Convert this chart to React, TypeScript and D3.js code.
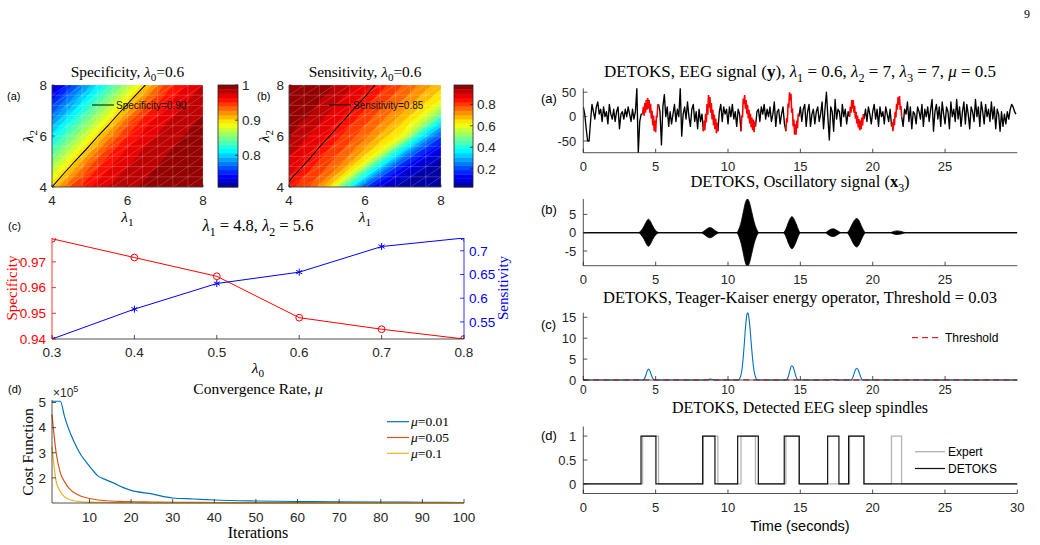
import React from "react";
import * as d3 from "d3";

// ---------- top-left heatmaps (rows: lambda2 = 4..8, columns: lambda1 = 4..8) ----------
const lambdaGrid = [4, 4.5, 5, 5.5, 6, 6.5, 7, 7.5, 8];
const specificityGrid = [
  [0.9, 0.941, 0.962, 0.976, 0.985, 0.99, 0.994, 0.997, 0.999],
  [0.877, 0.916, 0.949, 0.968, 0.98, 0.987, 0.992, 0.995, 0.998],
  [0.855, 0.892, 0.932, 0.958, 0.973, 0.983, 0.989, 0.993, 0.996],
  [0.832, 0.869, 0.906, 0.944, 0.964, 0.978, 0.986, 0.991, 0.995],
  [0.81, 0.846, 0.883, 0.922, 0.952, 0.97, 0.981, 0.988, 0.992],
  [0.788, 0.824, 0.86, 0.897, 0.938, 0.961, 0.975, 0.985, 0.99],
  [0.765, 0.8, 0.838, 0.874, 0.912, 0.947, 0.966, 0.979, 0.987],
  [0.742, 0.779, 0.815, 0.851, 0.888, 0.928, 0.955, 0.972, 0.982],
  [0.72, 0.756, 0.793, 0.829, 0.865, 0.902, 0.942, 0.963, 0.977],
];
const sensitivityGrid = [
  [0.837, 0.783, 0.675, 0.429, 0.2, 0.08, 0.05, 0.04, 0.035],
  [0.866, 0.816, 0.762, 0.64, 0.4, 0.2, 0.095, 0.055, 0.04],
  [0.892, 0.848, 0.795, 0.734, 0.618, 0.385, 0.2, 0.108, 0.06],
  [0.919, 0.875, 0.827, 0.775, 0.7, 0.604, 0.37, 0.2, 0.117],
  [0.945, 0.901, 0.857, 0.807, 0.755, 0.675, 0.609, 0.359, 0.2],
  [0.955, 0.927, 0.883, 0.838, 0.787, 0.73, 0.657, 0.549, 0.347],
  [0.96, 0.952, 0.909, 0.866, 0.818, 0.768, 0.708, 0.643, 0.524],
  [0.962, 0.958, 0.934, 0.891, 0.848, 0.798, 0.749, 0.69, 0.632],
  [0.964, 0.962, 0.955, 0.917, 0.874, 0.828, 0.779, 0.729, 0.676],
];

// ---------- panel (c) ----------
const lambda0 = [0.3, 0.4, 0.5, 0.6, 0.7, 0.8];
const specificityVsL0 = [0.979, 0.9717, 0.9644, 0.9483, 0.9438, 0.94];
const sensitivityVsL0 = [0.514, 0.577, 0.631, 0.655, 0.709, 0.727];

// ---------- panel (d) ----------
const iterations = [1, 2, 3, 4, 5, 6, 7, 8, 9, 10, 12, 14, 16, 18, 20, 25, 30, 35, 40, 50, 60, 70, 80, 90, 100];
const costMu001 = [505000, 505000, 505000, 445000, 395000, 355000, 320000, 290000, 268000, 247000, 208000, 192000, 178000, 162000, 150000, 136000, 120000, 116000, 112000, 108000, 106000, 105000, 104000, 103000, 102000];
const costMu005 = [453000, 300000, 220000, 185000, 160000, 145000, 135000, 127000, 122000, 118000, 112000, 109000, 107000, 106000, 105000, 104000, 103000, 102500, 102000, 101500, 101200, 101000, 101000, 101000, 101000];
const costMu01 = [325000, 186000, 145000, 125000, 115000, 110000, 107000, 105000, 104000, 103500, 102500, 102000, 101500, 101200, 101000, 100800, 100600, 100500, 100500, 100500, 100500, 100500, 100500, 100500, 100500];
const muLabels = ["0.01", "0.05", "0.1"];

// ---------- right column: EEG (10 samples / s) ----------
const eegRate = 10;
const eegSignal = [
  20, 5, -25, -50, -50, -10, 25, 10, -5, 20,
  30, 5, 15, -10, 20, 0, 10, -15, 25, 5,
  -5, 15, -10, 10, 20, -25, 5, 10, -5, 15,
  0, 20, 5, -10, 15, -5, 10, 58, -74, -10,
  5, 5, 0, 0, 0, 0, 0, 0, 0, 0,
  0, 0, 25, 10, -58, 20, 45, 0, 20, -20,
  10, -15, 5, 25, -10, 15, 0, 58, -40, 5,
  20, -5, 30, 0, -20, 15, 25, -10, 10, -25,
  15, -10, 5, -30, 0, 0, 0, 0, 0, 0,
  0, 0, 0, -30, 10, 25, -10, 20, 5, 15,
  -15, 20, 0, 25, -5, 10, -20, 15, 5, -30,
  0, 0, 0, 0, 0, 0, 0, 0, 0, -20,
  10, 15, -10, 20, 5, 25, -5, 15, 0, 20,
  -10, 5, 30, -20, 10, 15, -15, 5, 20, -15,
  -30, 0, 0, 0, 0, 0, 0, 0, 0, 0,
  20, -10, 15, 25, -20, 10, 25, -20, 5, 15,
  -15, 10, 20, -10, 5, 30, -25, 15, 50, 0,
  -48, 20, 10, -30, 35, -5, 15, 10, -20, 25,
  0, 15, -15, 10, 0, 0, 0, 0, 0, 0,
  0, 0, 0, 0, -5, 15, -10, 20, 5, -15,
  10, 25, -5, 15, -20, 20, 0, 10, -15, 20,
  5, -10, 15, -20, 0, 0, 0, 0, 0, 0,
  0, -20, 15, 5, 30, -10, 20, -25, 10, 5,
  -15, 20, 10, -5, 25, -20, 15, 0, 20, -10,
  15, 35, -30, 10, 25, -5, 20, -20, 30, 5,
  -15, 20, 10, -25, 30, 0, 15, -10, 35, -5,
  20, -20, 10, 30, -15, 25, 5, -25, 20, 10,
  -10, 35, 0, 20, -20, 30, 10, -15, 25, 0,
  15, -10, 30, -5, 20, -25, 15, 5, -30, 10,
  -20, 5, -15, 10, -5, 15, 25, 20, 10, 5,
];

// expert-scored spindles (seconds) and the EEG inside them (20 samples / s)
const expertOn = [4.1, 8.3, 10.9, 14.0, 18.4, 21.3];
const expertOff = [5.2, 9.3, 11.9, 14.9, 19.4, 22.0];
const expertRate = 20;
const expertEEG = [
  [5, 20, 2, 28, 8, 34, 14, 38, 16, 34, 8, 26, -4, 12, -18, 2, -30, -8, -32, 0, 0, 24, 25],
  [-30, -8, -28, 6, -12, 26, 4, 44, 18, 40, 8, 28, -6, 14, -18, 4, -26, -4, -34, -12, -30],
  [-30, 2, -2, 37, 26, 44, 16, 34, 6, 24, -4, 14, -14, 6, -22, -2, -28, -6, -32, -10, -20],
  [-30, -3, -12, 27, 18, 50, 33, 47, 8, 17, -20, -6, -37, -16, -37, -8, -24, 6, 0],
  [0, 20, 8, 34, 16, 34, 8, 22, -4, 10, -14, 2, -22, -5, -28, -8, -26, -2, -18, 5, -5],
  [-20, -12, -30, -5, -18, 10, -2, 26, 14, 40, 24, 42, 14, 22, 0],
];

// DETOKS detections (seconds)
const detoksOn = [3.99, 8.25, 10.67, 13.89, 16.89, 18.34];
const detoksOff = [5.02, 9.1, 12.1, 14.93, 17.67, 19.4];

// oscillatory component x3: envelope [time, amplitude]
const oscEnvelope = [
  [0, 0], [3.8, 0], [4.0, 0.6], [4.2, 1.8], [4.35, 3.0], [4.5, 3.7], [4.65, 3.0], [4.8, 1.8], [5.0, 0.6], [5.3, 0],
  [8.1, 0], [8.4, 0.6], [8.6, 1.2], [8.75, 1.4], [8.9, 1.2], [9.1, 0.6], [9.45, 0],
  [10.6, 0], [10.75, 1.0], [10.9, 2.8], [11.05, 5.5], [11.2, 8.2], [11.35, 9.2], [11.5, 8.0], [11.65, 5.5], [11.8, 3.0], [11.95, 1.2], [12.15, 0],
  [13.8, 0], [14.0, 1.0], [14.15, 2.6], [14.3, 3.9], [14.42, 4.4], [14.55, 3.8], [14.7, 2.5], [14.85, 1.0], [15.0, 0],
  [16.7, 0], [16.95, 0.6], [17.15, 1.0], [17.3, 1.05], [17.5, 0.7], [17.85, 0],
  [18.2, 0], [18.4, 0.9], [18.6, 2.5], [18.75, 3.5], [18.9, 3.9], [19.05, 3.3], [19.2, 2.0], [19.35, 0.8], [19.5, 0],
  [21.2, 0], [21.45, 0.35], [21.7, 0.5], [21.95, 0.35], [22.3, 0], [29.99, 0],
];

// Teager-Kaiser energy [time, value]
const tkeo = [
  [0, 0], [4.1, 0], [4.2, 0.2], [4.3, 0.9], [4.4, 2.0], [4.5, 2.6], [4.6, 2.2], [4.7, 1.2], [4.8, 0.4], [4.9, 0.05], [5.0, 0],
  [8.5, 0], [8.65, 0.12], [8.8, 0.2], [8.95, 0.1], [9.1, 0],
  [10.7, 0], [10.8, 0.3], [10.9, 1.2], [11.0, 3.5], [11.1, 7.5], [11.2, 12.2], [11.3, 15.6], [11.35, 16.1], [11.4, 15.8], [11.5, 13.2], [11.6, 9.0], [11.7, 5.0], [11.8, 2.2], [11.9, 0.7], [12.0, 0.1], [12.1, 0],
  [14.0, 0], [14.1, 0.3], [14.2, 1.2], [14.3, 2.6], [14.4, 3.4], [14.5, 3.1], [14.6, 2.0], [14.7, 0.8], [14.8, 0.15], [14.9, 0],
  [17.0, 0], [17.2, 0.12], [17.4, 0.12], [17.6, 0],
  [18.5, 0], [18.6, 0.4], [18.7, 1.4], [18.8, 2.4], [18.9, 2.8], [19.0, 2.4], [19.1, 1.4], [19.2, 0.5], [19.3, 0.05], [19.4, 0],
  [29.99, 0],
];
const threshold = 0.03;

// ---------- styling ----------
const AX = "#262626";
const SANS = "'Liberation Sans', Arial, Helvetica, sans-serif";
const SERIF = "'Liberation Serif', 'Times New Roman', serif";
const NLEV = 24;
const BLUE = "#0072BD", ORANGE = "#D95319", YELLOW = "#EDB120";

const jet = d3
  .scaleLinear<string>()
  .domain([0, 0.11, 0.36, 0.62, 0.87, 1])
  .range(["#00008f", "#0000ff", "#00ffff", "#ffff00", "#ff0000", "#800000"]);

// text with subscripts / bold / italic pieces: [text, kind]
function Rich({ parts, fs, ...rest }: any) {
  let shifted = false;
  const out = parts.map(([s, k]: any, i: number) => {
    let dy: number | undefined;
    if (k === "s" && !shifted) { dy = fs * 0.28; shifted = true; }
    else if (k !== "s" && shifted) { dy = -fs * 0.28; shifted = false; }
    return (
      <tspan key={i} dy={dy} fontSize={k === "s" ? fs * 0.72 : fs}
        fontWeight={k === "b" ? "bold" : undefined} fontStyle={k === "i" ? "italic" : undefined}>{s}</tspan>
    );
  });
  return <text fontSize={fs} style={{ whiteSpace: "pre" }} {...rest}>{out}</text>;
}

function BottomAxis({ scale, y, ticks, fmt = String, fs = 13, tl = 4, dy = 17, color = AX }: any) {
  const [a, b] = scale.range();
  return (
    <g>
      <line x1={a} x2={b} y1={y} y2={y} stroke={color} strokeWidth={0.8} />
      {ticks.map((t: number) => (
        <g key={t}>
          <line x1={scale(t)} x2={scale(t)} y1={y} y2={y - tl} stroke={color} strokeWidth={0.8} />
          <text x={scale(t)} y={y + dy} textAnchor="middle" fontFamily={SANS} fontSize={fs} fill={color}>{fmt(t)}</text>
        </g>
      ))}
    </g>
  );
}

function SideAxis({ scale, x, ticks, fmt = String, fs = 13, tl = 4, gap = 6, color = AX, side = "left" }: any) {
  const [a, b] = scale.range();
  const dir = side === "left" ? 1 : -1;
  return (
    <g>
      <line x1={x} x2={x} y1={a} y2={b} stroke={color} strokeWidth={0.8} />
      {ticks.map((t: number) => (
        <g key={t}>
          <line x1={x} x2={x + dir * tl} y1={scale(t)} y2={scale(t)} stroke={color} strokeWidth={0.8} />
          <text x={x - dir * gap} y={scale(t)} dy="0.36em" textAnchor={side === "left" ? "end" : "start"}
            fontFamily={SANS} fontSize={fs} fill={color}>{fmt(t)}</text>
        </g>
      ))}
    </g>
  );
}

function Heatmap({ x0, x1, y0, y1, grid, lo, hi, level, legend, title, tag, tagX, cbX0, cbX1, cbTicks, ylabX, id }: any) {
  const xs = d3.scaleLinear().domain([4, 8]).range([x0, x1]);
  const ys = d3.scaleLinear().domain([4, 8]).range([y1, y0]);
  const n = lambdaGrid.length;
  const step = lambdaGrid[1] - lambdaGrid[0];
  const flat = grid.flat();
  const levels = d3.range(NLEV).map((k) => lo + (k * (hi - lo)) / NLEV);
  const bands = d3.contours().size([n, n]).thresholds(levels)(flat);
  const iso = d3.contours().size([n, n]).thresholds([level])(flat)[0];
  const proj = d3.geoTransform({
    point: function (px: number, py: number) {
      (this as any).stream.point(xs(lambdaGrid[0] + (px - 0.5) * step), ys(lambdaGrid[0] + (py - 0.5) * step));
    },
  });
  const path = d3.geoPath(proj as any);
  const mesh = d3.range(4, 8.001, 0.4);
  const cy = d3.scaleLinear().domain([lo, hi]).range([y1, y0]);
  const dv = (hi - lo) / NLEV;
  return (
    <g>
      <clipPath id={id}><rect x={x0} y={y0} width={x1 - x0} height={y1 - y0} /></clipPath>
      <g clipPath={`url(#${id})`}>
        {bands.map((b: any, k: number) => (
          <path key={k} d={path(b) || ""} fill={jet((k + 0.5) / NLEV)} stroke={jet((k + 0.5) / NLEV)} strokeWidth={0.3} />
        ))}
        <g stroke="#fff" strokeOpacity={0.32} strokeWidth={0.6}>
          {mesh.map((v) => (
            <g key={v}>
              <line x1={xs(v)} x2={xs(v)} y1={y0} y2={y1} />
              <line x1={x0} x2={x1} y1={ys(v)} y2={ys(v)} />
            </g>
          ))}
          {mesh.slice(0, -1).map((a) =>
            mesh.slice(0, -1).map((b) => (
              <line key={`${a}-${b}`} x1={xs(a)} y1={ys(b)} x2={xs(a + 0.4)} y2={ys(b + 0.4)} />
            ))
          )}
        </g>
        <path d={path(iso as any) || ""} fill="none" stroke="#000" strokeWidth={1.1} />
      </g>
      <line x1={x0 + 40} x2={x0 + 62} y1={105} y2={105} stroke="#000" strokeWidth={1} />
      <text x={x0 + 64} y={108.5} fontFamily={SANS} fontSize={10} fill="#111">{legend}</text>
      <BottomAxis scale={xs} y={y1} ticks={[4, 6, 8]} fs={13.5} tl={2.5} dy={18} />
      <SideAxis scale={ys} x={x0} ticks={[4, 6, 8]} fs={13.5} tl={2.5} gap={5} />
      <Rich x={(x0 + x1) / 2} y={77} textAnchor="middle" fontFamily={SERIF} fs={15.4} fill="#000" parts={title} />
      <Rich x={(x0 + x1) / 2} y={222} textAnchor="middle" fontFamily={SERIF} fs={15.5} fill="#000" parts={[["λ", "i"], ["1", "s"]]} />
      <Rich transform={`translate(${ylabX},136) rotate(-90)`} textAnchor="middle" fontFamily={SERIF} fs={15.5} fill="#000" parts={[["λ", "i"], ["2", "s"]]} />
      <text x={tagX} y={100} fontFamily={SANS} fontSize={11} fill="#000">{tag}</text>
      {/* colorbar */}
      {d3.range(NLEV).map((k) => (
        <rect key={k} x={cbX0} width={cbX1 - cbX0} y={cy(lo + (k + 1) * dv)} height={cy(lo + k * dv) - cy(lo + (k + 1) * dv) + 0.4} fill={jet((k + 0.5) / NLEV)} />
      ))}
      <rect x={cbX0} y={y0} width={cbX1 - cbX0} height={y1 - y0} fill="none" stroke={AX} strokeWidth={0.8} />
      {cbTicks.map((t: number) => (
        <g key={t}>
          <line x1={cbX1} x2={cbX1 - 3} y1={cy(t)} y2={cy(t)} stroke={AX} strokeWidth={0.8} />
          <text x={cbX1 + 4} y={cy(t)} dy="0.36em" fontFamily={SANS} fontSize={13.5} fill={AX}>{t}</text>
        </g>
      ))}
    </g>
  );
}

function PanelC() {
  const x = d3.scaleLinear().domain([0.3, 0.8]).range([52, 464]);
  const yl = d3.scaleLinear().domain([0.94, 0.9793]).range([339, 238]);
  const yr = d3.scaleLinear().domain([0.514, 0.727]).range([339, 238]);
  const lineL = d3.line<number>().x((_, i) => x(lambda0[i])).y((d) => yl(d));
  const lineR = d3.line<number>().x((_, i) => x(lambda0[i])).y((d) => yr(d));
  const star = d3.symbol(d3.symbolAsterisk, 34)() || "";
  return (
    <g>
      <clipPath id="clipC"><rect x={52} y={238} width={412} height={101} /></clipPath>
      <g clipPath="url(#clipC)">
        <path d={lineL(specificityVsL0) || ""} fill="none" stroke="#ff0000" strokeWidth={1} />
        <path d={lineR(sensitivityVsL0) || ""} fill="none" stroke="#0000ff" strokeWidth={1} />
        {specificityVsL0.map((v, i) => (
          <circle key={i} cx={x(lambda0[i])} cy={yl(v)} r={3.4} fill="none" stroke="#ff0000" strokeWidth={1} />
        ))}
        {sensitivityVsL0.map((v, i) => (
          <path key={i} d={star} transform={`translate(${x(lambda0[i])},${yr(v)})`} fill="none" stroke="#0000ff" strokeWidth={1} />
        ))}
      </g>
      <BottomAxis scale={x} y={339} ticks={lambda0} fs={13.5} tl={4} dy={18} />
      <SideAxis scale={yl} x={52} ticks={[0.94, 0.95, 0.96, 0.97]} fs={13.5} gap={6} color="#ff0000" />
      <SideAxis scale={yr} x={464} ticks={[0.55, 0.6, 0.65, 0.7]} fs={13.5} gap={5} color="#0000ff" side="right" />
      <text x={8} y={230} fontFamily={SANS} fontSize={11}>(c)</text>
      <Rich x={258} y={231} textAnchor="middle" fontFamily={SERIF} fs={16.5} fill="#000"
        parts={[["λ", "i"], ["1", "s"], [" = 4.8, ", "n"], ["λ", "i"], ["2", "s"], [" = 5.6", "n"]]} />
      <Rich x={258} y={373} textAnchor="middle" fontFamily={SERIF} fs={15.5} fill="#000" parts={[["λ", "i"], ["0", "s"]]} />
      <text transform="translate(17,288) rotate(-90)" textAnchor="middle" fontFamily={SERIF} fontSize={15} fill="#ff0000">Specificity</text>
      <text transform="translate(508,288) rotate(-90)" textAnchor="middle" fontFamily={SERIF} fontSize={15} fill="#0000ff">Sensitivity</text>
    </g>
  );
}

function PanelD() {
  const x = d3.scaleLinear().domain([1, 100]).range([52, 464]);
  const y = d3.scaleLinear().domain([100000, 510000]).range([503, 400]);
  const series = [costMu001, costMu005, costMu01];
  const colors = [BLUE, ORANGE, YELLOW];
  const line = d3.line<number>().x((_, i) => x(iterations[i])).y((d) => y(d)).curve(d3.curveMonotoneX);
  return (
    <g>
      {series.map((s, k) => (
        <path key={k} d={line(s) || ""} fill="none" stroke={colors[k]} strokeWidth={1.2} />
      ))}
      <BottomAxis scale={x} y={503} ticks={d3.range(10, 101, 10)} fs={13.5} tl={4} dy={19} />
      <SideAxis scale={y} x={52} ticks={[200000, 300000, 400000, 500000]} fmt={(t: number) => t / 100000} fs={13.5} gap={6} />
      <text x={53} y={397} fontFamily={SANS} fontSize={12} fill={AX}>×10<tspan dy={-5} fontSize={9}>5</tspan></text>
      <text x={8} y={393} fontFamily={SANS} fontSize={11}>(d)</text>
      <Rich x={258} y={394} textAnchor="middle" fontFamily={SERIF} fs={15.5} fill="#000" parts={[["Convergence Rate, ", "n"], ["μ", "i"]]} />
      <text x={258} y={538} textAnchor="middle" fontFamily={SERIF} fontSize={16}>Iterations</text>
      <text transform="translate(33,452) rotate(-90)" textAnchor="middle" fontFamily={SERIF} fontSize={15.5}>Cost Function</text>
      {muLabels.map((m, k) => (
        <g key={m}>
          <line x1={387} x2={409} y1={421.7 + k * 15.8} y2={421.7 + k * 15.8} stroke={colors[k]} strokeWidth={1.2} />
          <Rich x={411} y={426 + k * 15.8} fontFamily={SERIF} fs={13.5} fill="#000" parts={[["μ", "i"], ["=" + m, "n"]]} />
        </g>
      ))}
    </g>
  );
}

const RX0 = 583.3, RX1 = 1017.3;
const xSig = d3.scaleLinear().domain([0, 29.99]).range([RX0, RX1]);
const sigTicks = [0, 5, 10, 15, 20, 25];

function EegPanel() {
  const y = d3.scaleLinear().domain([-74, 58]).range([152.7, 88.3]);
  const inExpert = (t: number) => expertOn.some((s, k) => t > s + 1e-6 && t < expertOff[k] - 1e-6);
  const pts = eegSignal.map((v, i) => [i / eegRate, v]);
  const line = d3.line<number[]>().x((d) => xSig(d[0])).y((d) => y(d[1]));
  const black = d3.line<number[]>().defined((d) => !inExpert(d[0])).x((d) => xSig(d[0])).y((d) => y(d[1]));
  return (
    <g>
      <clipPath id="clipEA"><rect x={RX0} y={88.3} width={RX1 - RX0} height={64.4} /></clipPath>
      <g clipPath="url(#clipEA)">
        <path d={black(pts) || ""} fill="none" stroke="#000" strokeWidth={1.35} strokeLinejoin="round" />
        {expertEEG.map((seg, k) => (
          <path key={k} d={line(seg.map((v, i) => [expertOn[k] + i / expertRate, v])) || ""} fill="none" stroke="#ff0000" strokeWidth={1.6} />
        ))}
      </g>
      <BottomAxis scale={xSig} y={152.7} ticks={sigTicks} fs={13} dy={18} />
      <SideAxis scale={y} x={RX0} ticks={[-50, 0, 50]} fs={13} gap={7} />
      <text x={541} y={103} fontFamily={SANS} fontSize={13}>(a)</text>
      <Rich x={800} y={77} textAnchor="middle" fontFamily={SERIF} fs={17} fill="#000"
        parts={[["DETOKS, EEG signal (", "n"], ["y", "b"], ["), ", "n"], ["λ", "i"], ["1", "s"], [" = 0.6, ", "n"], ["λ", "i"], ["2", "s"],
          [" = 7, ", "n"], ["λ", "i"], ["3", "s"], [" = 7, ", "n"], ["μ", "i"], [" = 0.5", "n"]]} />
    </g>
  );
}

function OscPanel() {
  const y = d3.scaleLinear().domain([-9.0, 9.2]).range([265.7, 199]);
  const area = d3.area<number[]>().x((d) => xSig(d[0])).y0((d) => y(-d[1])).y1((d) => y(d[1])).curve(d3.curveMonotoneX);
  const [t0, t1] = xSig.domain();
  return (
    <g>
      <clipPath id="clipEB"><rect x={RX0} y={199} width={RX1 - RX0} height={66.7} /></clipPath>
      <g clipPath="url(#clipEB)">
        <line x1={xSig(t0)} x2={xSig(t1)} y1={y(0)} y2={y(0)} stroke="#000" strokeWidth={1} />
        <path d={area(oscEnvelope) || ""} fill="#000" stroke="#000" strokeWidth={0.8} />
      </g>
      <BottomAxis scale={xSig} y={265.7} ticks={sigTicks} fs={13} dy={18} />
      <SideAxis scale={y} x={RX0} ticks={[-5, 0, 5]} fs={13} gap={7} />
      <text x={541} y={214} fontFamily={SANS} fontSize={13}>(b)</text>
      <Rich x={800} y={187} textAnchor="middle" fontFamily={SERIF} fs={16.5} fill="#000"
        parts={[["DETOKS, Oscillatory signal (", "n"], ["x", "b"], ["3", "s"], [")", "n"]]} />
    </g>
  );
}

function TkeoPanel() {
  const y = d3.scaleLinear().domain([0, 16.1]).range([380, 312.7]);
  const line = d3.line<number[]>().x((d) => xSig(d[0])).y((d) => y(d[1])).curve(d3.curveMonotoneX);
  const [t0, t1] = xSig.domain();
  return (
    <g>
      <path d={line(tkeo) || ""} fill="none" stroke={BLUE} strokeWidth={1.1} />
      <line x1={xSig(t0)} x2={xSig(t1)} y1={y(threshold)} y2={y(threshold)} stroke="#e8262b" strokeWidth={1.2} strokeDasharray="6,4" />
      <BottomAxis scale={xSig} y={380} ticks={sigTicks} fs={12} dy={14} />
      <SideAxis scale={y} x={RX0} ticks={[0, 5, 10, 15]} fs={13} gap={7} />
      <text x={541} y={329} fontFamily={SANS} fontSize={13}>(c)</text>
      <text x={800} y={303} textAnchor="middle" fontFamily={SERIF} fontSize={16.5}>DETOKS, Teager-Kaiser energy operator, Threshold = 0.03</text>
      <line x1={912} x2={942} y1={337.7} y2={337.7} stroke="#e8262b" strokeWidth={1.2} strokeDasharray="6,4" />
      <text x={945} y={342} fontFamily={SANS} fontSize={12}>Threshold</text>
    </g>
  );
}

function steps(on: number[], off: number[], tEnd: number) {
  const pts: number[][] = [[0, 0]];
  on.forEach((s, k) => { pts.push([s, 0], [s, 1], [off[k], 1], [off[k], 0]); });
  pts.push([tEnd, 0]);
  return pts;
}

function DetectPanel() {
  const x = d3.scaleLinear().domain([0, 30]).range([RX0, RX1]);
  const y = d3.scaleLinear().domain([-0.2, 1.2]).range([493.5, 426.5]);
  const line = d3.line<number[]>().x((d) => x(d[0])).y((d) => y(d[1]));
  return (
    <g>
      <path d={line(steps(expertOn, expertOff, 30)) || ""} fill="none" stroke="#b3b3b3" strokeWidth={1.3} />
      <path d={line(steps(detoksOn, detoksOff, 30)) || ""} fill="none" stroke="#111" strokeWidth={1.2} />
      <BottomAxis scale={x} y={493.5} ticks={[0, 5, 10, 15, 20, 25, 30]} fs={13} dy={18} />
      <SideAxis scale={y} x={RX0} ticks={[0, 0.5, 1]} fs={13} gap={7} />
      <text x={541} y={440} fontFamily={SANS} fontSize={13}>(d)</text>
      <text x={800} y={413} textAnchor="middle" fontFamily={SERIF} fontSize={16}>DETOKS, Detected EEG sleep spindles</text>
      <text x={800} y={531} textAnchor="middle" fontFamily={SANS} fontSize={14.5}>Time (seconds)</text>
      <line x1={915} x2={945} y1={451.7} y2={451.7} stroke="#b3b3b3" strokeWidth={1.3} />
      <text x={948} y={456} fontFamily={SANS} fontSize={12}>Expert</text>
      <line x1={915} x2={945} y1={468.5} y2={468.5} stroke="#111" strokeWidth={1.2} />
      <text x={948} y={473} fontFamily={SANS} fontSize={12}>DETOKS</text>
    </g>
  );
}

export default function App() {
  return (
    <svg width={1040} height={545} viewBox="0 0 1040 545"
      style={{ position: "absolute", left: 0, top: 0, background: "#fff" }}>
      <text x={1024} y={18} fontFamily={SERIF} fontSize={12}>9</text>
      <Heatmap id="hmA" x0={52} x1={203} y0={85} y1={187} grid={specificityGrid} lo={0.71} hi={1.0} level={0.9}
        legend="Specificity=0.90" title={[["Specificity, ", "n"], ["λ", "i"], ["0", "s"], ["=0.6", "n"]]}
        tag="(a)" tagX={7} cbX0={218} cbX1={238} cbTicks={[0.8, 0.9, 1]} ylabX={33} />
      <Heatmap id="hmB" x0={289} x1={441} y0={85} y1={187} grid={sensitivityGrid} lo={0.03} hi={0.98} level={0.85}
        legend="Sensitivity=0.85" title={[["Sensitivity, ", "n"], ["λ", "i"], ["0", "s"], ["=0.6", "n"]]}
        tag="(b)" tagX={257} cbX0={454} cbX1={473} cbTicks={[0.2, 0.4, 0.6, 0.8]} ylabX={269} />
      <PanelC />
      <PanelD />
      <EegPanel />
      <OscPanel />
      <TkeoPanel />
      <DetectPanel />
    </svg>
  );
}
